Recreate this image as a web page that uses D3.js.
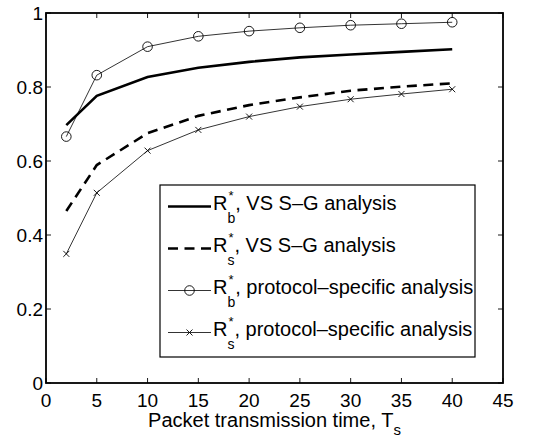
<!DOCTYPE html>
<html>
<head>
<meta charset="utf-8">
<script src="https://cdn.jsdelivr.net/npm/d3@7"></script>
<style>
  body { margin: 0; background: #fff; }
  svg text { font-family: "Liberation Sans", Arial, Helvetica, sans-serif; fill: #000; }
</style>
</head>
<body>
<div id="chart"></div>
<script>
// packet transmission time
const tsValues = [2, 5, 10, 15, 20, 25, 30, 35, 40];
const rbVsSg = [0.697, 0.776, 0.827, 0.852, 0.868, 0.880, 0.888, 0.895, 0.902];
const rsVsSg = [0.465, 0.589, 0.675, 0.722, 0.751, 0.772, 0.790, 0.801, 0.810];
const rbProtocol = [0.666, 0.832, 0.909, 0.937, 0.951, 0.960, 0.967, 0.971, 0.975];
const rsProtocol = [0.349, 0.514, 0.628, 0.684, 0.720, 0.747, 0.767, 0.781, 0.794];
const xTicks = [0, 5, 10, 15, 20, 25, 30, 35, 40, 45];
const yTicks = [0, 0.2, 0.4, 0.6, 0.8, 1];

const svgWidth = 548, svgHeight = 438;
const margin = { top: 13, right: 45, bottom: 55, left: 46 };
const width = svgWidth - margin.left - margin.right;
const height = svgHeight - margin.top - margin.bottom;

const svg = d3.select("#chart").append("svg")
    .attr("width", svgWidth)
    .attr("height", svgHeight);

const g = svg.append("g")
    .attr("transform", `translate(${margin.left},${margin.top})`);

const x = d3.scaleLinear().domain([0, 45]).range([0, width]);
const y = d3.scaleLinear().domain([0, 1]).range([height, 0]);

const series = [
    { name: "b", label: ", VS S\u2013G analysis", values: rbVsSg, width: 2.6, dash: null, marker: null },
    { name: "s", label: ", VS S\u2013G analysis", values: rsVsSg, width: 2.6, dash: "10,6.5", marker: null },
    { name: "b", label: ", protocol\u2013specific analysis", values: rbProtocol, width: 0.8, dash: null, marker: "circle" },
    { name: "s", label: ", protocol\u2013specific analysis", values: rsProtocol, width: 0.8, dash: null, marker: "x" }
];

const line = d3.line()
    .x(d => x(d[0]))
    .y(d => y(d[1]));

function drawMarker(sel, type, cx, cy) {
    if (type === "circle") {
        sel.append("circle")
            .attr("cx", cx).attr("cy", cy).attr("r", 4.8)
            .attr("fill", "none").attr("stroke", "#000").attr("stroke-width", 0.9);
    } else if (type === "x") {
        const s = 3;
        sel.append("path")
            .attr("d", `M${cx - s},${cy - s}L${cx + s},${cy + s}M${cx - s},${cy + s}L${cx + s},${cy - s}`)
            .attr("stroke", "#000").attr("stroke-width", 0.9);
    }
}

series.forEach(s => {
    const pts = tsValues.map((t, i) => [t, s.values[i]]);
    g.append("path")
        .datum(pts)
        .attr("fill", "none")
        .attr("stroke", "#000")
        .attr("stroke-width", s.width)
        .attr("stroke-dasharray", s.dash)
        .attr("d", line);
    if (s.marker) {
        pts.forEach(p => drawMarker(g, s.marker, x(p[0]), y(p[1])));
    }
});

// axes box with inward ticks
const tickLen = 5;
xTicks.forEach(t => {
    g.append("line").attr("x1", x(t)).attr("x2", x(t)).attr("y1", height).attr("y2", height - tickLen)
        .attr("stroke", "#000").attr("stroke-width", 0.9);
    g.append("line").attr("x1", x(t)).attr("x2", x(t)).attr("y1", 0).attr("y2", tickLen)
        .attr("stroke", "#000").attr("stroke-width", 0.9);
    g.append("text")
        .attr("x", x(t)).attr("y", height + 24)
        .attr("text-anchor", "middle")
        .attr("font-size", "19px")
        .text(t);
});
yTicks.forEach(t => {
    g.append("line").attr("x1", 0).attr("x2", tickLen).attr("y1", y(t)).attr("y2", y(t))
        .attr("stroke", "#000").attr("stroke-width", 0.9);
    g.append("line").attr("x1", width).attr("x2", width - tickLen).attr("y1", y(t)).attr("y2", y(t))
        .attr("stroke", "#000").attr("stroke-width", 0.9);
    g.append("text")
        .attr("x", -3).attr("y", y(t) + 7)
        .attr("text-anchor", "end")
        .attr("font-size", "19px")
        .text(d3.format("~g")(t));
});

g.append("rect")
    .attr("x", 0).attr("y", 0)
    .attr("width", width).attr("height", height)
    .attr("fill", "none")
    .attr("stroke", "#000")
    .attr("stroke-width", 1.8);

// x label
const xl = g.append("text")
    .attr("x", width / 2).attr("y", height + 44)
    .attr("text-anchor", "middle")
    .attr("font-size", "20px");
xl.append("tspan").text("Packet transmission time, T");
xl.append("tspan").attr("dy", 8).attr("font-size", "15px").text("s");

// legend
const legend = svg.append("g").attr("transform", "translate(160,185)");
legend.append("rect")
    .attr("width", 315).attr("height", 172)
    .attr("fill", "#fff")
    .attr("stroke", "#000")
    .attr("stroke-width", 1.2);

series.forEach((s, i) => {
    const cy = 21.5 + i * 42;
    const row = legend.append("g");
    row.append("line")
        .attr("x1", 8).attr("x2", 51)
        .attr("y1", cy).attr("y2", cy)
        .attr("stroke", "#000")
        .attr("stroke-width", s.width)
        .attr("stroke-dasharray", s.dash);
    if (s.marker) drawMarker(row, s.marker, 29.5, cy);
    const r = row.append("text")
        .attr("x", 53).attr("y", cy + 3)
        .attr("font-size", "20px")
        .text("R");
    const rx = 53 + r.node().getComputedTextLength();
    const sub = row.append("text")
        .attr("x", rx).attr("y", cy + 16)
        .attr("font-size", "14px")
        .text(s.name);
    row.append("text")
        .attr("x", rx + 1).attr("y", cy - 7)
        .attr("font-size", "13px")
        .text("*");
    row.append("text")
        .attr("x", rx + sub.node().getComputedTextLength()).attr("y", cy + 3)
        .attr("font-size", "20px")
        .text(s.label);
});
</script>
</body>
</html>
